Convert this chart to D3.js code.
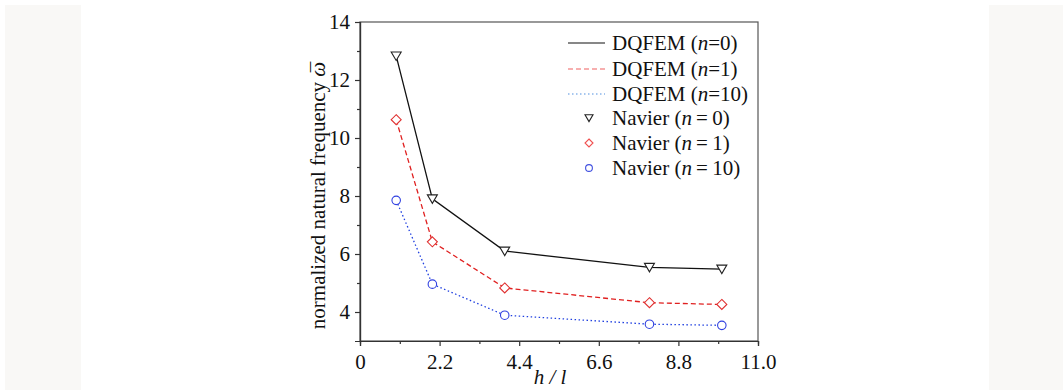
<!DOCTYPE html>
<html><head><meta charset="utf-8">
<script src="https://cdn.jsdelivr.net/npm/d3@7"></script>
<style>body{margin:0;background:#fff;} svg{display:block;} svg text{font-family:"Liberation Serif","Times New Roman",Times,Tinos,serif !important;}</style>
</head><body>
<svg id="c" width="1063" height="390"></svg>
<script>
const hl = [1, 2, 4, 8, 10];
const dq0 = [12.83, 7.9, 6.1, 5.54, 5.48];
const dq1 = [10.63, 6.42, 4.83, 4.32, 4.26];
const dq10 = [7.85, 4.96, 3.89, 3.58, 3.54];
const nav0 = [12.83, 7.9, 6.1, 5.54, 5.48];
const nav1 = [10.63, 6.42, 4.83, 4.32, 4.26];
const nav10 = [7.85, 4.96, 3.89, 3.58, 3.54];
const xTicks = [0, 2.2, 4.4, 6.6, 8.8, 11.0];
const xTickLabels = ["0", "2.2", "4.4", "6.6", "8.8", "11.0"];
const yTicks = [4, 6, 8, 10, 12, 14];
const lineNames = ["DQFEM (n=0)", "DQFEM (n=1)", "DQFEM (n=10)"];
const navNames = ["Navier (n=0)", "Navier (n=1)", "Navier (n=10)"];

const FONT = "'Liberation Serif','Times New Roman',Times,Tinos,serif";
const svg = d3.select("#c").attr("font-family", FONT);
// side panels
svg.append("rect").attr("x",5).attr("y",5).attr("width",76).attr("height",385).attr("fill","#f9f8f6");
svg.append("rect").attr("x",989).attr("y",5).attr("width",74).attr("height",385).attr("fill","#f9f8f6");

const L=360, R=758, T=22, B=341;
const x = d3.scaleLinear().domain([0,11]).range([L,R]);
const y = d3.scaleLinear().domain([3,14]).range([B,T]);

// frame
svg.append("rect").attr("x",L).attr("y",T).attr("width",R-L).attr("height",B-T)
  .attr("fill","none").attr("stroke","#555").attr("stroke-width",1.2);

// axes
const gx = svg.append("g").attr("transform",`translate(0,${B})`);
gx.call(d3.axisBottom(x).tickValues(xTicks).tickSize(5).tickFormat((d,i)=>xTickLabels[i]));
gx.append("g").call(d3.axisBottom(x).tickValues([1.1,3.3,5.5,7.7,9.9]).tickSize(3).tickFormat(""));
const gy = svg.append("g").attr("transform",`translate(${L},0)`);
gy.call(d3.axisLeft(y).tickValues(yTicks).tickSize(5));
gy.append("g").call(d3.axisLeft(y).tickValues([5,7,9,11,13]).tickSize(3).tickFormat(""));
svg.selectAll("g").attr("font-family", FONT);
svg.selectAll(".domain").attr("stroke","#333").attr("stroke-width",1.2);
svg.selectAll(".tick line").attr("stroke","#333").attr("stroke-width",1.2);
gx.selectAll(".tick text").attr("font-size",21).attr("fill","#111").attr("dy","0.95em");
gy.selectAll(".tick text").attr("font-size",21).attr("fill","#111").attr("dx","-0.1em");

// axis titles
const yl = svg.append("text").attr("transform",`translate(325,${(T+B)/2+14}) rotate(-90)`)
  .attr("text-anchor","middle").attr("font-size",21).attr("fill","#111");
yl.append("tspan").text("normalized natural frequency ");
yl.append("tspan").attr("font-style","italic").text("ω");
yl.append("tspan").attr("dx","-0.5em").attr("dy","0.05em").text("\u00AF");
svg.append("text").attr("x",(L+R)/2-9).attr("y",384).attr("text-anchor","middle")
  .attr("font-size",21).attr("fill","#111").attr("font-style","italic").text("h / l");

const series = [
  {v:dq0, nav:nav0, color:"#111", dash:null, sym:"tri", mc:"#222"},
  {v:dq1, nav:nav1, color:"#e02020", dash:"5,3", sym:"dia", mc:"#e03030"},
  {v:dq10, nav:nav10, color:"#2040e0", dash:"1.5,2.5", sym:"cir", mc:"#3040e0"}
];
const line = d3.line().x((d,i)=>x(hl[i])).y(d=>y(d));
function marker(g, sym, cx, cy, s, col){
  if(sym==="tri"){
    g.append("path").attr("d",`M${cx-s},${cy-s*0.8}L${cx+s},${cy-s*0.8}L${cx},${cy+s*0.9}Z`)
      .attr("fill","#fff").attr("stroke",col).attr("stroke-width",1.1);
  } else if(sym==="dia"){
    g.append("path").attr("d",`M${cx},${cy-s}L${cx+s},${cy}L${cx},${cy+s}L${cx-s},${cy}Z`)
      .attr("fill","#fff").attr("stroke",col).attr("stroke-width",1.1);
  } else {
    g.append("circle").attr("cx",cx).attr("cy",cy).attr("r",s*0.85)
      .attr("fill","#fff").attr("stroke",col).attr("stroke-width",1.1);
  }
}
series.forEach(s=>{
  svg.append("path").datum(s.v).attr("d",line).attr("fill","none").attr("stroke",s.color)
    .attr("stroke-width",1.3).attr("stroke-dasharray",s.dash);
});
series.forEach(s=>{
  const g = svg.append("g");
  s.nav.forEach((d,i)=>marker(g,s.sym,x(hl[i]),y(d),5,s.mc));
});

// legend
const lg = svg.append("g");
const rows = [43,69,94,118,143,168];
series.forEach((s,i)=>{
  lg.append("line").attr("x1",568).attr("x2",605).attr("y1",rows[i]).attr("y2",rows[i])
    .attr("stroke", i===0?"#111":(i===1?"#f06060":"#5090e0")).attr("stroke-width",1.2).attr("stroke-dasharray",s.dash);
  const t = lg.append("text").attr("x",612).attr("y",rows[i]+7).attr("font-size",21).attr("fill","#111");
  const parts = lineNames[i].split("n=");
  t.append("tspan").text(parts[0]);
  t.append("tspan").attr("font-style","italic").text("n");
  t.append("tspan").text("="+parts[1]);
});
series.forEach((s,i)=>{
  marker(lg, s.sym, 589, rows[3+i], 4, i===0?"#222":(i===1?"#f05050":"#4050e0"));
  const t = lg.append("text").attr("x",612).attr("y",rows[3+i]+7).attr("font-size",21).attr("fill","#111");
  const parts = navNames[i].split("n=");
  t.append("tspan").text(parts[0]);
  t.append("tspan").attr("font-style","italic").text("n");
  t.append("tspan").text("\u2009=\u2009"+parts[1]);
});
</script>
</body></html>
